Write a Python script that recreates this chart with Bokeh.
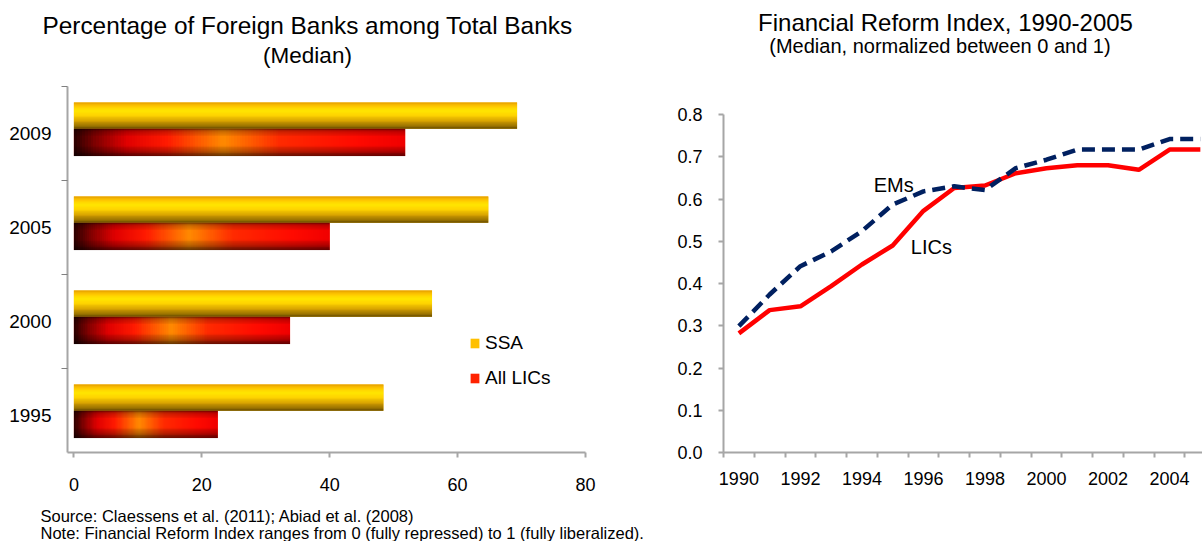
import numpy as np
from bokeh.plotting import figure
from bokeh.layouts import column, row
from bokeh.models import Range1d, FixedTicker, NumeralTickFormatter, Legend, LegendItem
from bokeh.core.properties import value
from bokeh.embed import file_html
from bokeh.resources import INLINE

FONT = "Liberation Sans"

# ---------------- data ----------------
# Left chart: Percentage of foreign banks among total banks (median)
bank_years = ["1995", "2000", "2005", "2009"]
ssa_share = [48.4, 56.0, 64.8, 69.3]
lic_share = [22.5, 33.8, 40.0, 51.8]

# Right chart: Financial Reform Index (median, normalized 0-1)
reform_years = list(range(1990, 2006))
lic_index = [0.282, 0.337, 0.346, 0.394, 0.445, 0.490, 0.572, 0.626,
             0.632, 0.661, 0.673, 0.680, 0.680, 0.669, 0.717, 0.717]
em_index = [0.299, 0.374, 0.441, 0.476, 0.524, 0.587, 0.618, 0.630,
            0.621, 0.673, 0.693, 0.717, 0.717, 0.717, 0.742, 0.742]

left_title = "Percentage of Foreign Banks among Total Banks"
left_sub = "(Median)"
right_title = "Financial Reform Index, 1990-2005"
right_sub = "(Median, normalized between  0 and  1)"
note_lines = ["Source: Claessens et al. (2011); Abiad et al. (2008)",
              "Note: Financial Reform Index ranges from 0 (fully repressed)  to 1 (fully liberalized)."]

W = 1202
AXIS_GRAY = "#A6A6A6"


def hex_rgb(h):
    h = h.lstrip("#")
    return np.array([int(h[i:i + 2], 16) for i in (0, 2, 4)], dtype=float)


def interp_rgb(stops, t):
    ts = [s[0] for s in stops]
    cols = np.array([hex_rgb(s[1]) for s in stops])
    return np.array([np.interp(t, ts, cols[:, k]) for k in range(3)])


def interp_val(stops, t):
    return float(np.interp(t, [s[0] for s in stops], [s[1] for s in stops]))


def make_rgba(rgb_fn, ny, nx):
    img = np.empty((ny, nx), dtype=np.uint32)
    view = img.view(dtype=np.uint8).reshape((ny, nx, 4))
    for r in range(ny):
        t_top = 1.0 - (r + 0.5) / ny   # 0 at top edge of bar, 1 at bottom edge
        for c in range(nx):
            xf = (c + 0.5) / nx
            rgb = rgb_fn(xf, t_top)
            view[r, c, 0:3] = np.clip(np.round(rgb), 0, 255).astype(np.uint8)
            view[r, c, 3] = 255
    return img


# ---------------- titles ----------------
tfig = figure(width=W, height=78, x_range=Range1d(0, W), y_range=Range1d(78, 0),
              output_backend="svg", toolbar_location=None, min_border=0,
              x_axis_location=None, y_axis_location=None)
tfig.grid.visible = False
tfig.outline_line_color = None
for tx, ty, txt, fs in ((307, 25, left_title, "24.4px"), (307, 55, left_sub, "22.5px"),
                        (945, 22, right_title, "24px"), (945, 45, right_sub, "20px")):
    tfig.text(x=[tx], y=[ty], text=[txt], text_font=value(FONT), text_font_size=fs,
              text_align="center", text_baseline="middle", text_color="#000000")

ROW_H = 422
B_TOP, B_BOTTOM = 8, 48   # both frames span page y 86..452

# ---------------- left chart ----------------
# categories 94 px apart, 2009 centred at y=133
CAT_PX = 94.0
FRAME_PX = ROW_H - B_TOP - B_BOTTOM
y_top = 3 + (133 - 86) / CAT_PX
left = figure(width=600, height=ROW_H, x_range=Range1d(-1, 80),
              y_range=Range1d(y_top - FRAME_PX / CAT_PX, y_top),
              output_backend="svg", toolbar_location=None,
              min_border_left=67, min_border_right=15,
              min_border_top=B_TOP, min_border_bottom=B_BOTTOM)
left.grid.visible = False
left.outline_line_color = None

cats = list(range(len(bank_years)))
H_SSA, OFF_SSA = 0.28, 0.19
H_LIC, OFF_LIC = 0.29, -0.095

# shading profiles
ssa_vstops = [(0.0, "#E39A00"), (0.15, "#FFC800"), (0.32, "#FFE600"), (0.5, "#FFD400"),
              (0.7, "#D9A400"), (0.88, "#9C7400"), (1.0, "#6A4E00")]
lic_hstops = [(0.0, "#2A0000"), (0.06, "#7A0000"), (0.16, "#E00000"), (0.28, "#FF1A00"),
              (0.45, "#FF8A00"), (0.62, "#FF2A00"), (0.85, "#FF0A00"), (1.0, "#F00000")]
lic_shade = [(0.0, 0.55), (0.12, 0.2), (0.3, 0.0), (0.6, 0.0), (0.8, 0.25), (1.0, 0.6)]

ssa_img = make_rgba(lambda xf, t: interp_rgb(ssa_vstops, t), 32, 2)
lic_img = make_rgba(lambda xf, t: interp_rgb(lic_hstops, xf) * (1 - interp_val(lic_shade, t)), 32, 120)

# base bars (solid colour, also used for the legend)
r_ssa = left.hbar(y=[c + OFF_SSA for c in cats], left=0, right=ssa_share, height=H_SSA,
                  fill_color="#FFC000", line_color=None)
r_lic = left.hbar(y=[c + OFF_LIC for c in cats], left=0, right=lic_share, height=H_LIC,
                  fill_color="#FF2200", line_color=None)
# cylinder shading drawn over each bar, sized from the same values
left.image_rgba(image=[ssa_img] * len(cats), x=[0] * len(cats),
                y=[c + OFF_SSA - H_SSA / 2 for c in cats], dw=ssa_share, dh=[H_SSA] * len(cats))
left.image_rgba(image=[lic_img] * len(cats), x=[0] * len(cats),
                y=[c + OFF_LIC - H_LIC / 2 for c in cats], dw=lic_share, dh=[H_LIC] * len(cats))

left.xaxis.ticker = FixedTicker(ticks=[0, 20, 40, 60, 80])
left.xaxis.axis_line_color = AXIS_GRAY
left.xaxis.axis_line_width = 2
left.xaxis.major_tick_line_color = AXIS_GRAY
left.xaxis.major_tick_line_width = 2
left.xaxis.major_tick_out = 5
left.xaxis.major_tick_in = 0
left.xaxis.minor_tick_line_color = None
left.xaxis.major_label_standoff = 20

left.yaxis.ticker = FixedTicker(ticks=cats, minor_ticks=[c - 0.5 for c in cats] + [cats[-1] + 0.5])
left.yaxis.major_label_overrides = {c: y for c, y in zip(cats, bank_years)}
left.yaxis.axis_line_color = AXIS_GRAY
left.yaxis.axis_line_width = 2
left.yaxis.major_tick_line_color = None
left.yaxis.major_tick_out = 0
left.yaxis.major_tick_in = 0
left.yaxis.minor_tick_line_color = "#808080"
left.yaxis.minor_tick_out = 6
left.yaxis.minor_tick_in = 0
left.yaxis.major_label_standoff = 10

for ax, size in ((left.xaxis, "18px"), (left.yaxis, "19px")):
    ax.major_label_text_font = FONT
    ax.major_label_text_font_size = size
    ax.major_label_text_color = "#000000"

legend = Legend(items=[LegendItem(label="SSA", renderers=[r_ssa]),
                       LegendItem(label="All LICs", renderers=[r_lic])],
                location=(402, 63), orientation="vertical",
                glyph_width=11, glyph_height=12, label_standoff=5, spacing=13,
                padding=0, margin=0, border_line_color=None, background_fill_alpha=0,
                label_text_font=FONT, label_text_font_size="19px", label_text_color="#000000",
                label_height=20)
left.add_layout(legend)

# ---------------- right chart ----------------
# value 0 sits at y=452 (frame bottom) and 0.8 at y=114
PX_PER_UNIT = (452 - 114) / 0.8
right = figure(width=602, height=ROW_H, x_range=Range1d(1989.5, 2005.07),
               y_range=Range1d(0, 0.8 + 28 / PX_PER_UNIT),
               output_backend="svg", toolbar_location=None,
               min_border_left=123, min_border_right=0,
               min_border_top=B_TOP, min_border_bottom=B_BOTTOM)
right.grid.visible = False
right.outline_line_color = None

right.line(reform_years, lic_index, line_color="#FF0000", line_width=4.5)
right.line(reform_years, em_index, line_color="#002060", line_width=4.5, line_dash="13 7")

right.text(x=[1994.38], y=[0.634], text=["EMs"], text_font=value(FONT), text_font_size="20px",
           text_align="left", text_baseline="middle", text_color="#000000")
right.text(x=[1995.59], y=[0.486], text=["LICs"], text_font=value(FONT), text_font_size="20px",
           text_align="left", text_baseline="middle", text_color="#000000")

right.xaxis.ticker = FixedTicker(ticks=reform_years[::2],
                                 minor_ticks=[y - 0.5 for y in reform_years] + [reform_years[-1] + 0.5])
right.xaxis.major_tick_line_color = None
right.xaxis.major_tick_out = 0
right.xaxis.major_tick_in = 0
right.xaxis.minor_tick_line_color = AXIS_GRAY
right.xaxis.minor_tick_line_width = 2
right.xaxis.minor_tick_out = 5
right.xaxis.minor_tick_in = 0
right.xaxis.major_label_standoff = 14

right.yaxis.bounds = (0, 0.8)
right.yaxis.ticker = FixedTicker(ticks=[i / 10 for i in range(9)])
right.yaxis.formatter = NumeralTickFormatter(format="0.0")
right.yaxis.major_tick_line_color = AXIS_GRAY
right.yaxis.major_tick_line_width = 2
right.yaxis.major_tick_out = 5
right.yaxis.major_tick_in = 0
right.yaxis.minor_tick_line_color = None
right.yaxis.major_label_standoff = 16

for ax in (right.xaxis, right.yaxis):
    ax.axis_line_color = AXIS_GRAY
    ax.axis_line_width = 2
    ax.major_label_text_font = FONT
    ax.major_label_text_font_size = "18px"
    ax.major_label_text_color = "#000000"

# ---------------- note ----------------
nfig = figure(width=W, height=41, x_range=Range1d(0, W), y_range=Range1d(41, 0),
              output_backend="svg", toolbar_location=None, min_border=0,
              x_axis_location=None, y_axis_location=None)
nfig.grid.visible = False
nfig.outline_line_color = None
nfig.text(x=[40, 40], y=[15, 32], text=note_lines, text_font=value(FONT), text_font_size="16.5px",
          text_align="left", text_baseline="middle", text_color="#000000")

page = column(tfig, row(left, right), nfig)
open("out.html", "w").write(file_html(page, INLINE))
